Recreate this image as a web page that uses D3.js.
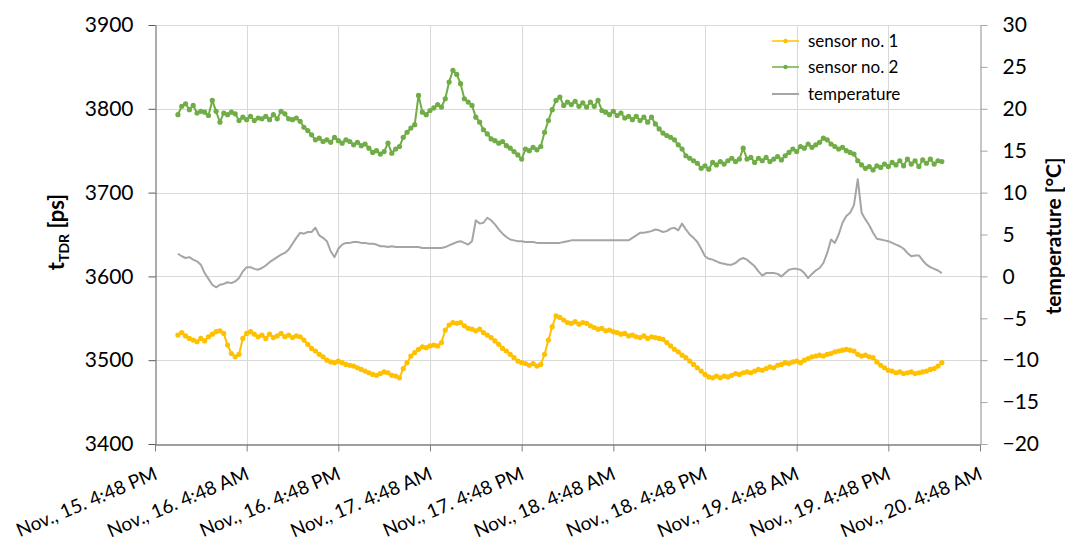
<!DOCTYPE html>
<html>
<head>
<meta charset="utf-8">
<script src="https://cdn.jsdelivr.net/npm/d3@7"></script>
<style>
  body { margin: 0; background: #fff; }
  svg { display: block; }
  text { font-family: Lato, "Open Sans", "DejaVu Sans", sans-serif; fill: #000; }
</style>
</head>
<body>
<svg id="chart" width="1065" height="546"></svg>
<script>
// Series labels and colours
const seriesNames = ["sensor no. 1", "sensor no. 2", "temperature"];
const seriesColors = ["#FFC000", "#70AD47", "#A5A5A5"];

// Samples are logged every 30 minutes starting at this time
const sampleStart = "2014-11-15T19:48";
const sampleStepMinutes = 30;

// TDR travel time of sensor no. 1 [ps]
const sensor1 = [
  3530,3533,3529,3526,3524,3522,3526,3523,3528,3531,
  3534,3535,3532,3518,3508,3504,3507,3526,3532,3534,
  3531,3528,3530,3526,3531,3527,3529,3532,3528,3530,
  3527,3529,3528,3524,3519,3514,3511,3507,3504,3500,
  3498,3497,3499,3497,3495,3494,3493,3491,3489,3487,
  3485,3483,3482,3484,3486,3485,3482,3481,3479,3490,
  3497,3505,3509,3513,3516,3515,3517,3518,3517,3521,
  3536,3542,3545,3544,3545,3541,3538,3537,3535,3537,
  3533,3530,3527,3523,3519,3514,3511,3507,3503,3499,
  3497,3496,3494,3496,3493,3495,3507,3524,3540,3553,
  3551,3548,3545,3544,3546,3543,3545,3544,3541,3539,
  3537,3538,3535,3536,3534,3533,3531,3532,3529,3530,
  3528,3527,3529,3526,3528,3527,3526,3525,3521,3517,
  3513,3510,3506,3503,3499,3495,3491,3487,3483,3480,
  3479,3481,3479,3481,3480,3482,3484,3483,3485,3486,
  3485,3487,3489,3488,3490,3492,3491,3494,3495,3497,
  3496,3498,3499,3497,3500,3502,3504,3505,3506,3505,
  3507,3508,3510,3511,3512,3513,3512,3511,3507,3505,
  3506,3504,3503,3498,3494,3491,3488,3487,3485,3486,
  3484,3485,3486,3484,3485,3486,3487,3489,3490,3493,
  3497
];

// TDR travel time of sensor no. 2 [ps]
const sensor2 = [
  3793,3803,3806,3799,3804,3795,3797,3796,3792,3810,
  3797,3784,3795,3793,3796,3794,3786,3790,3787,3791,
  3786,3789,3788,3791,3787,3793,3788,3797,3794,3788,
  3787,3789,3785,3778,3774,3769,3763,3765,3761,3763,
  3760,3766,3762,3759,3763,3761,3757,3760,3756,3758,
  3753,3748,3750,3746,3749,3759,3747,3752,3755,3766,
  3772,3777,3781,3816,3796,3793,3798,3801,3805,3802,
  3812,3832,3846,3841,3830,3812,3808,3804,3790,3784,
  3775,3770,3764,3762,3759,3761,3756,3753,3749,3745,
  3740,3752,3750,3754,3751,3755,3772,3786,3799,3810,
  3814,3804,3808,3805,3809,3803,3807,3802,3808,3803,
  3810,3798,3796,3793,3797,3792,3795,3789,3791,3787,
  3791,3786,3790,3784,3790,3782,3776,3771,3768,3766,
  3763,3757,3752,3744,3741,3738,3735,3729,3732,3728,
  3736,3733,3737,3734,3738,3741,3737,3740,3753,3740,
  3742,3736,3741,3738,3742,3737,3740,3743,3739,3744,
  3748,3752,3749,3755,3753,3758,3754,3757,3760,3765,
  3763,3758,3755,3752,3754,3750,3748,3746,3738,3733,
  3729,3731,3727,3732,3730,3734,3731,3736,3733,3738,
  3732,3740,3734,3738,3731,3739,3735,3740,3734,3738,
  3737
];

// Air temperature [°C]
const temperature = [
  2.7,2.4,2.2,2.3,2.0,1.8,1.4,0.4,-0.3,-1.0,
  -1.3,-1.0,-0.9,-0.7,-0.8,-0.6,-0.2,0.6,1.1,1.1,
  0.9,0.8,1.0,1.3,1.7,2.0,2.3,2.6,2.8,3.2,
  3.9,4.6,5.2,5.1,5.3,5.3,5.8,4.9,4.6,4.2,
  3.0,2.3,3.3,3.8,4.0,4.0,4.1,4.1,4.0,4.0,
  3.9,3.9,3.8,3.6,3.6,3.5,3.6,3.5,3.5,3.5,
  3.5,3.5,3.5,3.5,3.4,3.4,3.4,3.4,3.4,3.4,
  3.5,3.7,3.9,4.1,4.2,4.0,3.8,4.2,6.7,6.3,
  6.4,7.0,6.7,6.2,5.6,5.1,4.7,4.4,4.3,4.2,
  4.2,4.1,4.1,4.1,4.0,4.0,4.0,4.0,4.0,4.0,
  4.0,4.1,4.2,4.3,4.3,4.3,4.3,4.3,4.3,4.3,
  4.3,4.3,4.3,4.3,4.3,4.3,4.3,4.3,4.3,4.6,
  4.9,5.2,5.2,5.3,5.4,5.6,5.5,5.3,5.4,5.7,
  5.8,5.5,6.3,5.6,5.0,4.6,4.1,3.3,2.4,2.1,
  2.0,1.8,1.6,1.5,1.4,1.4,1.6,2.0,2.2,2.0,
  1.6,1.2,0.6,0.1,0.4,0.4,0.4,0.3,0.0,0.4,
  0.8,0.9,0.9,0.8,0.4,-0.2,0.3,0.7,1.0,1.6,
  2.8,4.4,4.0,5.0,6.4,7.2,7.6,8.5,11.6,7.6,
  6.8,6.1,5.2,4.5,4.4,4.3,4.2,4.0,3.8,3.6,
  3.3,2.8,2.4,2.5,2.5,1.9,1.4,1.1,0.9,0.7,
  0.4
];

// Axis ticks
const xTickTimes = [
  "2014-11-15T16:48", "2014-11-16T04:48", "2014-11-16T16:48", "2014-11-17T04:48",
  "2014-11-17T16:48", "2014-11-18T04:48", "2014-11-18T16:48", "2014-11-19T04:48",
  "2014-11-19T16:48", "2014-11-20T04:48"
];
const leftTicks = [3400, 3500, 3600, 3700, 3800, 3900];
const rightTicks = [-20, -15, -10, -5, 0, 5, 10, 15, 20, 25, 30];

// ---- layout ----
const svg = d3.select("#chart");
const plot = { left: 155, right: 980, top: 25, bottom: 444 };

const parse = d3.timeParse("%Y-%m-%dT%H:%M");
const tickDates = xTickTimes.map(parse);
const t0 = parse(sampleStart);
const timeAt = i => d3.timeMinute.offset(t0, i * sampleStepMinutes);

const x = d3.scaleTime()
  .domain([tickDates[0], tickDates[tickDates.length - 1]])
  .range([plot.left, plot.right]);
const yL = d3.scaleLinear().domain([3400, 3900]).range([plot.bottom, plot.top]);
const yR = d3.scaleLinear().domain([-20, 30]).range([plot.bottom, plot.top]);

// gridlines
const grid = svg.append("g").attr("stroke", "#d9d9d9").attr("stroke-width", 1);
grid.selectAll("line.h").data(leftTicks.slice(1)).join("line")
  .attr("x1", plot.left).attr("x2", plot.right)
  .attr("y1", d => Math.round(yL(d)) + 0.5).attr("y2", d => Math.round(yL(d)) + 0.5);
grid.selectAll("line.v").data(tickDates.slice(1, -1)).join("line")
  .attr("x1", d => Math.round(x(d)) + 0.5).attr("x2", d => Math.round(x(d)) + 0.5)
  .attr("y1", plot.top).attr("y2", plot.bottom);

// axes
const fmt = d3.timeFormat("%b., %-d. %-I:%M %p");

const gx = svg.append("g")
  .attr("transform", `translate(0,${plot.bottom + 0.5})`)
  .call(d3.axisBottom(x).tickValues(tickDates).tickFormat(fmt).tickSize(7).tickSizeOuter(0));
gx.select(".domain").attr("stroke", "#7f7f7f").attr("stroke-width", 1.3);
gx.selectAll(".tick line").attr("stroke", "#7f7f7f");
gx.selectAll(".tick text")
  .attr("font-size", 19)
  .attr("text-anchor", "end")
  .attr("x", null).attr("y", null).attr("dy", null)
  .attr("transform", "translate(3,34) rotate(-23)");

const gl = svg.append("g")
  .attr("transform", `translate(${plot.left + 0.5},0)`)
  .call(d3.axisLeft(yL).tickValues(leftTicks).tickFormat(d3.format("d")).tickSize(7).tickPadding(15).tickSizeOuter(0));
gl.select(".domain").attr("stroke", "#595959");
gl.selectAll(".tick line").attr("stroke", "#595959");
gl.selectAll(".tick text").attr("font-size", 21);

const gr = svg.append("g")
  .attr("transform", `translate(${plot.right + 0.5},0)`)
  .call(d3.axisRight(yR).tickValues(rightTicks).tickFormat(d3.format("d")).tickSize(7).tickPadding(15).tickSizeOuter(0));
gr.select(".domain").attr("stroke", "#a6a6a6").attr("stroke-width", 1.3);
gr.selectAll(".tick line").attr("stroke", "#a6a6a6");
gr.selectAll(".tick text").attr("font-size", 21);
svg.selectAll(".tick text").attr("fill", "#000");

// axis titles
const lt = svg.append("text")
  .attr("transform", "translate(64,232) rotate(-90)")
  .attr("text-anchor", "middle")
  .attr("font-size", 22).attr("font-weight", "bold");
lt.append("tspan").text("t");
lt.append("tspan").attr("dy", 5).attr("font-size", 14).text("TDR");
lt.append("tspan").attr("dy", -5).text(" [ps]");

svg.append("text")
  .attr("transform", "translate(1061,236) rotate(-90)")
  .attr("text-anchor", "middle")
  .attr("font-size", 21).attr("font-weight", "bold")
  .text("temperature [°C]");

// data
const rows = sensor1.map((v, i) => ({ t: timeAt(i), s1: v, s2: sensor2[i], temp: temperature[i] }));

svg.append("path").datum(rows)
  .attr("fill", "none").attr("stroke", seriesColors[2]).attr("stroke-width", 2)
  .attr("stroke-linejoin", "round")
  .attr("d", d3.line().x(d => x(d.t)).y(d => yR(d.temp)));

function sensorSeries(key, color) {
  const g = svg.append("g");
  g.append("path").datum(rows)
    .attr("fill", "none").attr("stroke", color).attr("stroke-width", 2)
    .attr("stroke-linejoin", "round")
    .attr("d", d3.line().x(d => x(d.t)).y(d => yL(d[key])));
  g.selectAll("circle").data(rows).join("circle")
    .attr("cx", d => x(d.t)).attr("cy", d => yL(d[key]))
    .attr("r", 2.6).attr("fill", color);
}
sensorSeries("s1", seriesColors[0]);
sensorSeries("s2", seriesColors[1]);

// legend
const legend = svg.append("g");
const legendY = [41, 67, 94];
seriesNames.forEach((name, i) => {
  const row = legend.append("g").attr("transform", `translate(772,${legendY[i]})`);
  row.append("line").attr("x1", 0).attr("x2", 27)
    .attr("stroke", seriesColors[i]).attr("stroke-width", i === 2 ? 2 : 1.5);
  if (i < 2) row.append("circle").attr("cx", 13.5).attr("r", 2.2).attr("fill", seriesColors[i]);
  row.append("text").attr("x", 36).attr("dy", "0.35em").attr("font-size", 17).text(name);
});
</script>
</body>
</html>
